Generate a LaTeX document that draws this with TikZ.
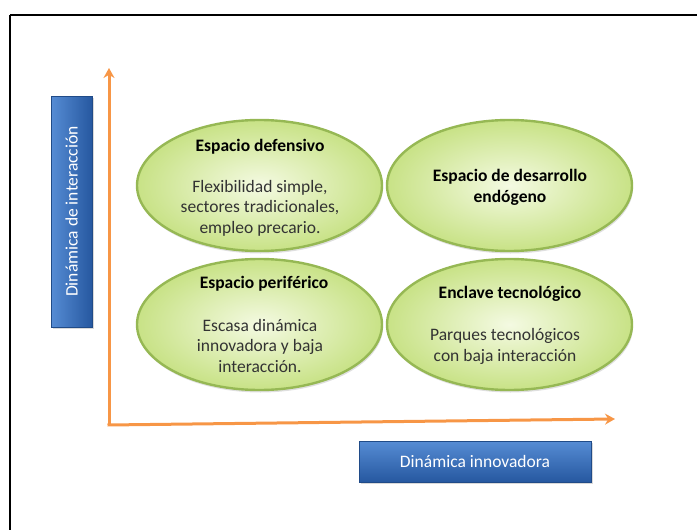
\documentclass[tikz,border=0pt]{standalone}
\usepackage{fontspec}
\setmainfont{Carlito}
\usetikzlibrary{shapes.geometric, arrows.meta, positioning, shadows}

\definecolor{zoneedge}{RGB}{150,184,84}
\definecolor{zonein}{RGB}{244,250,226}
\definecolor{zoneout}{RGB}{200,226,134}
\definecolor{axisorange}{RGB}{247,150,70}
\definecolor{bluetop}{RGB}{86,140,212}
\definecolor{bluebot}{RGB}{38,88,160}

\begin{document}
\begin{tikzpicture}[
    x=1pt, y=-1pt,
    node distance=5.6pt,
    every node/.style={font=\fontsize{17.5}{20.5}\selectfont},
    zone/.style={ellipse, draw=zoneedge, line width=2.4pt, inner color=zonein, outer color=zoneout,
      minimum width=245pt, minimum height=131pt,
      drop shadow={opacity=0.25, shadow xshift=1pt, shadow yshift=-2.5pt}},
    ztitle/.style={font=\fontsize{17.5}{20.5}\selectfont\bfseries, align=center, anchor=base},
    ztext/.style={align=center, anchor=base, text=black!80},
    axisbox/.style={rectangle, draw=bluebot!85!black, line width=0.6pt, top color=bluetop, bottom color=bluebot,
      text=white, drop shadow={opacity=0.3, shadow xshift=1.5pt, shadow yshift=-1.5pt}},
    axis/.style={line width=3pt, axisorange, -{Stealth[length=10pt, width=11pt]}},
    frame/.style={line width=1.8pt, black}
  ]
    \useasboundingbox (0,0) rectangle (697,530);
    % Frame
    \draw[frame] (10,15) -- (710,15);
    \draw[frame] (10,15) -- (10,545);
    % Axes
    \coordinate (origin) at (109,425);
    \coordinate (ytip) at (109,68);
    \coordinate (xtip) at (615,419);
    \draw[axis] (origin) -- (ytip);
    \draw[axis] ([xshift=-1.5pt]origin) -- (xtip);
    % Quadrants
    \node[zone] (def) at (259.5,185.5) {};
    \node[zone, right=2.6pt of def] (des) {};
    \node[zone, below=of def] (per) {};
    \node[zone, below=of des] (enc) {};
    % Quadrant texts (base = last line)
    \node[ztitle] (tdef) at (260,151) {Espacio defensivo};
    \node[ztext] (bdef) at (260,233) {Flexibilidad simple,\\sectores tradicionales,\\empleo precario.};
    \node[ztitle] (tdes) at (510,202) {Espacio de desarrollo\\endógeno};
    \node[ztitle] (tper) at (264,288) {Espacio periférico};
    \node[ztext] (bper) at (260,372) {Escasa dinámica\\innovadora y baja\\interacción.};
    \node[ztitle] (tenc) at (510,298) {Enclave tecnológico};
    \node[ztext] (benc) at (505,361) {Parques tecnológicos\\con baja interacción};
    % Axis labels
    \node[axisbox, left color=bluetop, right color=bluebot, rotate=90, minimum width=231pt, minimum height=41pt] (ylab) at (71.5,211.5) {Dinámica de interacción};
    \node[axisbox, minimum width=232pt, minimum height=41pt] (xlab) at (475,461.5) {Dinámica innovadora};
\end{tikzpicture}
\end{document}
